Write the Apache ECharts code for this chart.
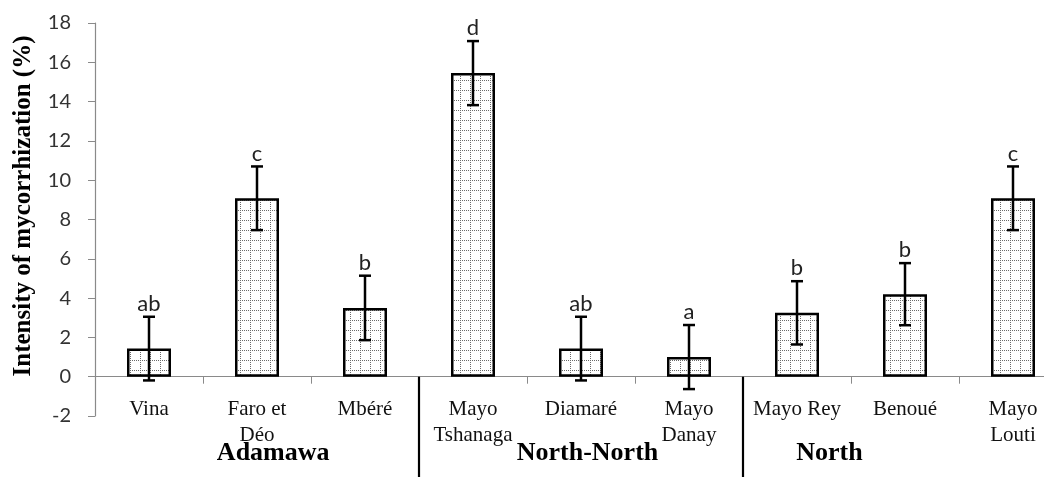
<!DOCTYPE html>
<html>
<head>
<meta charset="utf-8">
<script src="https://cdn.jsdelivr.net/npm/echarts@6/dist/echarts.min.js"></script>
<style>
html, body { margin: 0; padding: 0; background: #fff; }
#ECharts-Content { width: 1044px; height: 477px; }
</style>
</head>
<body>
<div id="ECharts-Content"></div>
<script>
// data
const categories = ['Vina', 'Faro et\nDéo', 'Mbéré', 'Mayo\nTshanaga', 'Diamaré', 'Mayo\nDanay', 'Mayo Rey', 'Benoué', 'Mayo\nLouti'];
const means = [1.43, 9.08, 3.5, 15.45, 1.43, 1.0, 3.25, 4.2, 9.08];
const errors = [1.62, 1.62, 1.64, 1.63, 1.62, 1.63, 1.61, 1.58, 1.62];
const letters = ['ab', 'c', 'b', 'd', 'ab', 'a', 'b', 'b', 'c'];
const groups = ['Adamawa', 'North-North', 'North'];

// layout of the region labels, in category steps from the first bar
const groupPos = [1.15, 4.06, 6.3];
const dividerPos = [2.5, 5.5];

const SERIF = '"Liberation Serif", "Times New Roman", serif';
const SANS = 'Lato, "Noto Sans", sans-serif';

// dotted grid fill of the bars
function makePattern() {
    const c = document.createElement('canvas');
    c.width = 10;
    c.height = 10;
    const ctx = c.getContext('2d');
    ctx.fillStyle = '#fff';
    ctx.fillRect(0, 0, 10, 10);
    ctx.fillStyle = '#6a6a6a';
    for (let i = 0; i < 10; i += 2) {
        ctx.fillRect(i, 0, 1, 1);
        ctx.fillRect(0, i, 1, 1);
    }
    return c;
}

function renderErr(params, api) {
    const x = api.value(0);
    const lo = api.coord([x, api.value(1)]);
    const hi = api.coord([x, api.value(2)]);
    const cap = 6;
    const st = { stroke: '#000', lineWidth: 2.5 };
    return {
        type: 'group',
        children: [
            { type: 'line', shape: { x1: lo[0], y1: lo[1], x2: hi[0], y2: hi[1] }, style: st },
            { type: 'line', shape: { x1: hi[0] - cap, y1: hi[1], x2: hi[0] + cap, y2: hi[1] }, style: st },
            { type: 'line', shape: { x1: lo[0] - cap, y1: lo[1], x2: lo[0] + cap, y2: lo[1] }, style: st },
            {
                type: 'text',
                style: {
                    text: letters[params.dataIndex],
                    x: hi[0], y: hi[1] - 2,
                    align: 'center', verticalAlign: 'bottom',
                    font: '22px ' + SANS,
                    fill: '#222'
                }
            }
        ]
    };
}

const errData = means.map((m, i) => [i, m - errors[i], m + errors[i]]);

const Option = {
    animation: false,
    grid: { left: 95, right: -23, top: 23, bottom: 61, containLabel: false, outerBoundsMode: 'none' },
    xAxis: {
        type: 'category',
        data: categories,
        axisLine: { onZero: true, lineStyle: { color: '#8a8a8a', width: 1.2 } },
        axisTick: { show: true, length: 7, lineStyle: { color: '#8a8a8a' } },
        axisLabel: {
            interval: 0,
            margin: -20,
            fontFamily: SERIF,
            fontSize: 21,
            lineHeight: 26,
            color: '#111'
        }
    },
    yAxis: {
        type: 'value',
        min: -2,
        max: 18,
        interval: 2,
        splitLine: { show: false },
        axisLine: { show: true, lineStyle: { color: '#8a8a8a', width: 1.2 } },
        axisTick: { show: true, length: 7, lineStyle: { color: '#8a8a8a' } },
        axisLabel: { margin: 24, fontFamily: SANS, fontSize: 20, color: '#333' }
    },
    series: [{
        type: 'bar',
        data: means,
        barWidth: 44,
        itemStyle: {
            color: { image: makePattern(), repeat: 'repeat' },
            borderColor: '#000',
            borderWidth: 2.5
        }
    }, {
        type: 'custom',
        renderItem: renderErr,
        data: errData,
        z: 5
    }]
};

const chartDom = document.getElementById('ECharts-Content');
const LocalChart = echarts.init(chartDom);
LocalChart.setOption(Option);

// region dividers and region names below the axis
const p0 = LocalChart.convertToPixel({ xAxisIndex: 0 }, categories[0]);
const p1 = LocalChart.convertToPixel({ xAxisIndex: 0 }, categories[1]);
const step = p1 - p0;
const y0 = LocalChart.convertToPixel({ yAxisIndex: 0 }, 0);
const graphic = [];
dividerPos.forEach(function (d) {
    const x = p0 + d * step;
    graphic.push({
        type: 'line',
        shape: { x1: x, y1: y0, x2: x, y2: 477 },
        style: { stroke: '#000', lineWidth: 2.2 },
        z: 10
    });
});
groups.forEach(function (g, i) {
    graphic.push({
        type: 'text',
        x: p0 + groupPos[i] * step,
        y: 453,
        style: {
            text: g,
            align: 'center', verticalAlign: 'middle',
            font: 'bold 26px ' + SERIF,
            fill: '#000'
        },
        z: 10
    });
});
graphic.push({
    type: 'text',
    x: 24,
    y: 206,
    rotation: Math.PI / 2,
    style: {
        text: 'Intensity of mycorrhization (%)',
        align: 'center', verticalAlign: 'middle',
        font: 'bold 25px ' + SERIF,
        fill: '#000'
    }
});
LocalChart.setOption({ graphic: graphic });
</script>
</body>
</html>
